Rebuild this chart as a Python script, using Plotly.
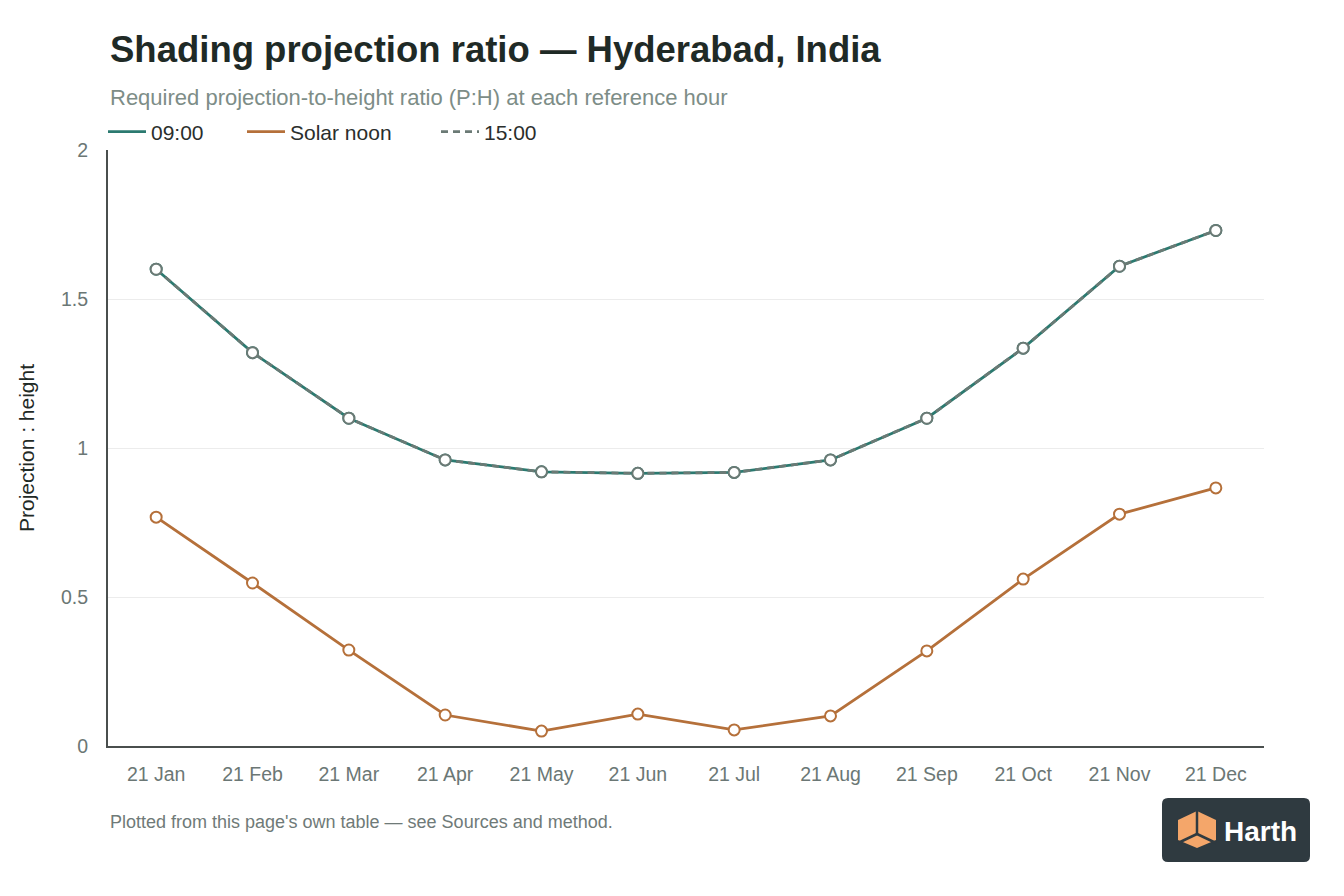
import plotly.graph_objects as go

months = ['21 Jan', '21 Feb', '21 Mar', '21 Apr', '21 May', '21 Jun',
          '21 Jul', '21 Aug', '21 Sep', '21 Oct', '21 Nov', '21 Dec']
ratio_0900 = [1.60, 1.32, 1.10, 0.96, 0.92, 0.915, 0.918, 0.96, 1.10, 1.335, 1.61, 1.73]
ratio_noon = [0.768, 0.547, 0.322, 0.104, 0.050, 0.107, 0.054, 0.101, 0.319, 0.560, 0.778, 0.866]
ratio_1500 = [1.60, 1.32, 1.10, 0.96, 0.92, 0.915, 0.918, 0.96, 1.10, 1.335, 1.61, 1.73]

# the page body puts the figure 8px in from the top-left corner
OFF = 8
W, H = 1328, 880
L, R, T, B = 100, 72, 142, 142
FONT = 'Liberation Sans, Arial, sans-serif'

TEAL = '#2b7a70'
ORANGE = '#b5703a'
GREY = '#6b7a75'
DASH = '7px,5px'


def px(x, y):
    # position on the screenshot -> paper coords
    x, y = x - OFF, y - OFF
    return (x - L) / (W - L - R), (H - B - y) / (H - T - B)


def rounded_rect(x0, y0, x1, y1, r):
    def p(x, y):
        a, b = px(x, y)
        return f'{a:.5f},{b:.5f}'
    return (f'M{p(x0 + r, y0)} L{p(x1 - r, y0)} Q{p(x1, y0)} {p(x1, y0 + r)} '
            f'L{p(x1, y1 - r)} Q{p(x1, y1)} {p(x1 - r, y1)} L{p(x0 + r, y1)} '
            f'Q{p(x0, y1)} {p(x0, y1 - r)} L{p(x0, y0 + r)} Q{p(x0, y0)} {p(x0 + r, y0)} Z')


def poly(points):
    s = []
    for i, (x, y) in enumerate(points):
        a, b = px(x, y)
        s.append(('M' if i == 0 else 'L') + f'{a:.5f},{b:.5f}')
    return ' '.join(s) + ' Z'


fig = go.Figure()

series = [
    ('09:00', ratio_0900, TEAL, 'solid', 'legend', 103),
    ('Solar noon', ratio_noon, ORANGE, 'solid', 'legend2', 242),
    ('15:00', ratio_1500, GREY, DASH, 'legend3', 436),
]
for name, vals, color, dash, lg, lx in series:
    fig.add_trace(go.Scatter(
        x=months, y=vals, name=name, mode='lines+markers', showlegend=False,
        line=dict(color=color, width=2.8, dash=dash),
        marker=dict(size=11, color='white', line=dict(color=color, width=2)),
    ))
# legend entries: plain line swatches, no markers
for name, vals, color, dash, lg, lx in series:
    fig.add_trace(go.Scatter(
        x=[months[0]], y=[None], name=name, mode='lines', legend=lg,
        line=dict(color=color, width=2.8, dash=dash), hoverinfo='skip',
    ))

legend_style = dict(orientation='h', xanchor='left', yanchor='middle',
                    font=dict(family=FONT, size=21, color='#2a2e2c'),
                    itemwidth=38, bgcolor='rgba(0,0,0,0)')
legends = {}
for name, vals, color, dash, lg, lx in series:
    legends[lg] = dict(legend_style, x=px(lx, 0)[0], y=px(0, 132)[1])

# logo badge
shapes = [
    dict(type='path', xref='paper', yref='paper', path=rounded_rect(1162, 798, 1310, 862, 6),
         fillcolor='#2f3a40', line=dict(width=0), layer='above'),
]
cx, cy = 1197, 834
hexagon = [(1197, 811), (1216, 820), (1216, 840), (1197, 848), (1178, 840), (1178, 820)]
shapes.append(dict(type='path', xref='paper', yref='paper', path=poly(hexagon),
                   fillcolor='#f4a66a', line=dict(width=0), layer='above'))
for (ex, ey) in [(1197, 811), (1178, 843), (1216, 843)]:
    a0, b0 = px(cx, cy)
    a1, b1 = px(ex, ey)
    shapes.append(dict(type='line', xref='paper', yref='paper', x0=a0, y0=b0, x1=a1, y1=b1,
                       line=dict(color='#2f3a40', width=2.5), layer='above'))

annotations = [
    dict(text='Shading projection ratio — Hyderabad, India', xref='paper', yref='paper',
         x=0, y=px(0, 50)[1], xanchor='left', yanchor='middle', showarrow=False,
         font=dict(family=FONT, size=36.5, color='#1f2a26', weight='bold')),
    dict(text='Required projection-to-height ratio (P:H) at each reference hour', xref='paper', yref='paper',
         x=0, y=px(0, 97)[1], xanchor='left', yanchor='middle', showarrow=False,
         font=dict(family=FONT, size=22, color='#7d8d87')),
    dict(text="Plotted from this page's own table — see Sources and method.", xref='paper', yref='paper',
         x=0, y=px(0, 822)[1], xanchor='left', yanchor='middle', showarrow=False,
         font=dict(family=FONT, size=18, color='#6f7a78')),
    dict(text='<b>Harth</b>', xref='paper', yref='paper',
         x=px(1222, 0)[0], y=px(0, 831)[1], xanchor='left', yanchor='middle', showarrow=False,
         font=dict(family=FONT, size=28, color='white')),
]

fig.update_layout(
    width=W, height=H,
    margin=dict(l=L, r=R, t=T, b=B),
    paper_bgcolor='white', plot_bgcolor='white',
    font=dict(family=FONT, size=19, color='#6b7775'),
    showlegend=True,
    xaxis=dict(
        range=[-0.5, 11.5], showgrid=False, zeroline=False,
        showline=True, linecolor='#4a4f4e', linewidth=2,
        ticks='', ticklabelstandoff=10,
        tickfont=dict(family=FONT, size=19.5, color='#6b7775'),
    ),
    yaxis=dict(
        range=[0, 2], tickvals=[0, 0.5, 1, 1.5, 2], ticktext=['0', '0.5', '1', '1.5', '2'],
        showgrid=True, gridcolor='#ececec', gridwidth=1, zeroline=False,
        showline=True, linecolor='#4a4f4e', linewidth=2,
        ticks='', ticklabelstandoff=14,
        tickfont=dict(family=FONT, size=19.5, color='#6b7775'),
        title=dict(text='Projection : height', standoff=21,
                   font=dict(family=FONT, size=21, color='#1f2a26')),
    ),
    shapes=shapes,
    annotations=annotations,
    **legends,
)

fig.write_html('out.html')
